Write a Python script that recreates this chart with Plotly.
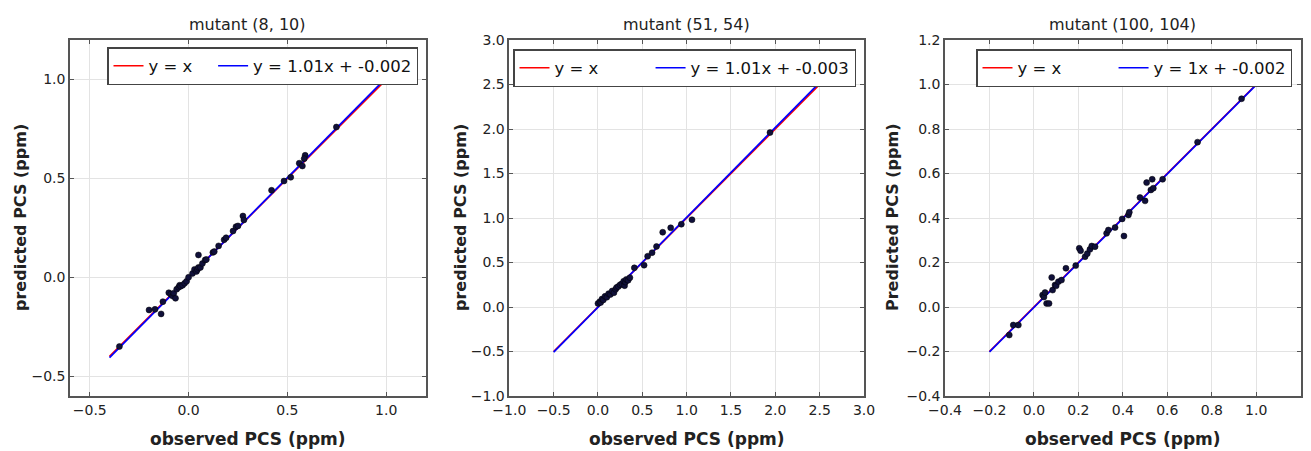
import plotly.graph_objects as go

# window is 1311x451; the page body has an 8px margin, so the figure is drawn
# 8px smaller and all pixel positions below are given in window coordinates.
OFF = 8
W, H = 1311 - OFF, 451 - OFF

titles = ["mutant (8, 10)", "mutant (51, 54)", "mutant (100, 104)"]
ytitles = ["predicted PCS (ppm)", "predicted PCS (ppm)", "Predicted PCS (ppm)"]
xtitle = "observed PCS (ppm)"

slopes = [1.01, 1.01, 1.0]
intercepts = [-0.002, -0.003, -0.002]
fit_labels = ["y = 1.01x + -0.002", "y = 1.01x + -0.003", "y = 1x + -0.002"]
line_x = [[-0.4, 1.0], [-0.5, 2.5], [-0.2, 1.0]]

axis_ranges = [[-0.6, 1.2], [-1.0, 3.0], [-0.4, 1.2]]
tick_vals = [
    [-0.5, 0.0, 0.5, 1.0],
    [-1.0, -0.5, 0.0, 0.5, 1.0, 1.5, 2.0, 2.5, 3.0],
    [-0.4, -0.2, 0.0, 0.2, 0.4, 0.6, 0.8, 1.0, 1.2],
]

obs1 = [-0.35, -0.2, -0.17, -0.139, -0.13, -0.10, -0.09, -0.08, -0.075, -0.066, -0.06, -0.05,
        -0.045, -0.04, -0.03, -0.02, -0.01, 0.0, 0.02, 0.03, 0.04, 0.045, 0.05, 0.06, 0.05,
        0.07, 0.084, 0.09, 0.123, 0.13, 0.152, 0.18, 0.19, 0.225, 0.24, 0.25, 0.275, 0.28,
        0.42, 0.483, 0.517, 0.56, 0.576, 0.59, 0.585, 0.748]
pred1 = [-0.35, -0.165, -0.162, -0.185, -0.123, -0.078, -0.085, -0.095, -0.08, -0.106, -0.06, -0.05,
         -0.04, -0.045, -0.04, -0.03, -0.02, 0.0, 0.02, 0.04, 0.03, 0.04, 0.05, 0.05, 0.113,
         0.07, 0.088, 0.09, 0.126, 0.13, 0.159, 0.19, 0.2, 0.234, 0.256, 0.26, 0.31, 0.29,
         0.44, 0.487, 0.506, 0.577, 0.563, 0.617, 0.6, 0.76]

obs2 = [0.0, 0.02, 0.03, 0.045, 0.06, 0.08, 0.1, 0.12, 0.14, 0.16, 0.18, 0.2, 0.21, 0.23,
        0.25, 0.27, 0.29, 0.30, 0.31, 0.32, 0.34, 0.36, 0.41, 0.52, 0.56, 0.61, 0.66, 0.73,
        0.82, 0.94, 1.06, 1.94]
pred2 = [0.04, 0.06, 0.05, 0.09, 0.08, 0.12, 0.11, 0.15, 0.14, 0.18, 0.16, 0.2, 0.22, 0.23,
         0.25, 0.26, 0.29, 0.24, 0.28, 0.31, 0.3, 0.33, 0.44, 0.47, 0.57, 0.61, 0.68, 0.84,
         0.89, 0.93, 0.98, 1.96]

obs3 = [-0.111, -0.093, -0.07, 0.039, 0.045, 0.05, 0.057, 0.068, 0.08, 0.084, 0.095, 0.1,
        0.11, 0.124, 0.144, 0.188, 0.204, 0.21, 0.23, 0.24, 0.252, 0.26, 0.275, 0.327,
        0.335, 0.365, 0.397, 0.405, 0.425, 0.429, 0.477, 0.5, 0.507, 0.526, 0.532, 0.537,
        0.579, 0.736, 0.934]
pred3 = [-0.126, -0.081, -0.081, 0.054, 0.045, 0.065, 0.016, 0.016, 0.133, 0.076, 0.099, 0.095,
         0.114, 0.121, 0.174, 0.186, 0.264, 0.253, 0.226, 0.24, 0.259, 0.274, 0.271, 0.331,
         0.346, 0.357, 0.396, 0.319, 0.414, 0.426, 0.492, 0.477, 0.559, 0.526, 0.574, 0.534,
         0.574, 0.741, 0.936]

observed = [obs1, obs2, obs3]
predicted = [pred1, pred2, pred3]

# layout (window pixels)
x_left = [70, 509.3, 945]
x_right = [425.7, 864, 1300.7]
y_top, y_bot = 40, 396
legend_right = [418, 856, 1292]
legend_top = [47, 49, 49]
ytitle_x = [20, 460, 892]
legend_pad = [3, 9, 9]
title_y = 24
xtitle_y = 439


def px(v):
    return (v - OFF) / W


def py(v):
    return (H - (v - OFF)) / H


NB = "\u00a0"

fig = go.Figure()
font_tick = dict(family="DejaVu Sans", size=14, color="#222")
annotations = []

for i in range(3):
    xa = "x" if i == 0 else f"x{i+1}"
    ya = "y" if i == 0 else f"y{i+1}"
    lg = "legend" if i == 0 else f"legend{i+1}"
    lx = line_x[i]
    fig.add_trace(go.Scatter(x=lx, y=lx, mode="lines", name="y = x" + NB * legend_pad[i],
                             line=dict(color="#ff0000", width=1.7),
                             xaxis=xa, yaxis=ya, legend=lg))
    fig.add_trace(go.Scatter(x=lx, y=[slopes[i] * v + intercepts[i] for v in lx],
                             mode="lines", name=fit_labels[i],
                             line=dict(color="#0000ff", width=1.7),
                             xaxis=xa, yaxis=ya, legend=lg))
    fig.add_trace(go.Scatter(x=observed[i], y=predicted[i], mode="markers",
                             marker=dict(color="#10103a", size=6,
                                         line=dict(color="#000", width=0.5)),
                             showlegend=False, xaxis=xa, yaxis=ya))

    axis_common = dict(range=axis_ranges[i], tickvals=tick_vals[i],
                       tickformat=".1f", showgrid=True, gridcolor="#e3e3e3",
                       gridwidth=1, zeroline=False, showline=True, linecolor="#555",
                       linewidth=1.5, mirror="allticks", ticks="inside", ticklen=4,
                       tickcolor="#555", tickfont=font_tick, automargin=False)
    fig.layout[f"xaxis{'' if i == 0 else i+1}"] = dict(
        domain=[px(x_left[i]), px(x_right[i])], anchor=ya, **axis_common)
    fig.layout[f"yaxis{'' if i == 0 else i+1}"] = dict(
        domain=[py(y_bot), py(y_top)], anchor=xa, **axis_common)

    fig.layout[lg] = dict(x=px(legend_right[i]), y=py(legend_top[i]),
                          xanchor="right", yanchor="top", orientation="h",
                          bgcolor="white", bordercolor="#444", borderwidth=1.5,
                          font=dict(family="DejaVu Sans", size=16.5, color="#111"),
                          tracegroupgap=0)

    cx = px((x_left[i] + x_right[i]) / 2)
    annotations.append(dict(text=titles[i], x=cx, y=py(title_y), xref="paper",
                            yref="paper", showarrow=False, xanchor="center",
                            yanchor="middle",
                            font=dict(family="DejaVu Sans", size=16, color="#222")))
    annotations.append(dict(text=f"<b>{xtitle}</b>", x=cx, y=py(xtitle_y),
                            xref="paper", yref="paper", showarrow=False,
                            xanchor="center", yanchor="middle",
                            font=dict(family="DejaVu Sans", size=17, color="#222")))
    annotations.append(dict(text=f"<b>{ytitles[i]}</b>", x=px(ytitle_x[i]),
                            y=py((y_top + y_bot) / 2), xref="paper",
                            yref="paper", showarrow=False, textangle=-90,
                            xanchor="center", yanchor="middle",
                            font=dict(family="DejaVu Sans", size=16, color="#222")))

fig.update_layout(width=W, height=H, margin=dict(l=0, r=0, t=0, b=0, autoexpand=False),
                  paper_bgcolor="white", plot_bgcolor="white",
                  annotations=annotations)

fig.write_html("out.html")
